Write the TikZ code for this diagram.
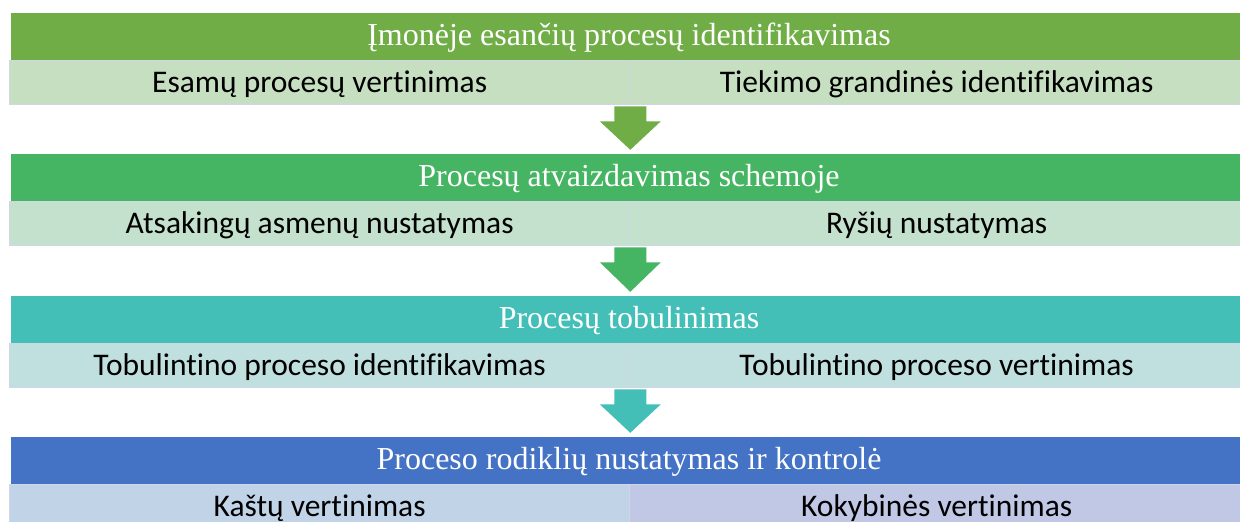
\documentclass[tikz,border=0pt]{standalone}
\usepackage{fontspec}
\setmainfont{Liberation Serif}
\newfontfamily\carlito[Ligatures={NoCommon}]{Carlito}
\usetikzlibrary{calc}

\definecolor{bandA}{HTML}{70AD47}
\definecolor{bandB}{HTML}{46B563}
\definecolor{bandC}{HTML}{43BFB8}
\definecolor{bandD}{HTML}{4472C4}
\definecolor{subA}{HTML}{C6DFC1}
\definecolor{subB}{HTML}{C3E1CC}
\definecolor{subC}{HTML}{C0E0DF}
\definecolor{subDl}{HTML}{C0D3E7}
\definecolor{subDr}{HTML}{C0C8E5}
\definecolor{edge}{HTML}{D0D5E8}

\tikzset{
  header/.style={minimum width=1236pt, minimum height=47pt, inner sep=0pt,
    text height=32pt, text depth=15pt,
    text=white, font=\fontsize{32}{34}\selectfont},
  subbox/.style={draw=edge, line width=1.3pt, minimum height=44pt, inner sep=0pt,
    text height=31.5pt, text depth=12.5pt,
    anchor=north west, font=\carlito\fontsize{31.5}{34}\selectfont},
  leftbox/.style={subbox, minimum width=620pt},
  rightbox/.style={subbox, minimum width=614pt},
}

% block arrow from the divider of a sub row down to the next header
\newcommand\stagearrow[3]{%
  \fill[#3] ($(#1)+(-16,1)$) -- ($(#1)+(16,1)$) -- ($(#1)+(16,16)$)
    -- ($(#1)+(30.5,16)$) -- ($(#1 |- #2.north)+(0,-4)$)
    -- ($(#1)+(-30.5,16)$) -- ($(#1)+(-16,16)$) -- cycle;}

\begin{document}
\begin{tikzpicture}[x=1pt,y=-1pt]
\clip (0,0) rectangle (1240,522);
\fill[white] (0,0) rectangle (1240,522);

% row 1
\node[leftbox, fill=subA] (s1l) at (9,60) {Esamų procesų vertinimas};
\node[rightbox, fill=subA] (s1r) at (629,60) {Tiekimo grandinės identifikavimas};
\node[header, fill=bandA] (h1) at (629,36.5) {Įmonėje esančių procesų identifikavimas};

% row 2
\node[leftbox, fill=subB] (s2l) at (9,201) {Atsakingų asmenų nustatymas};
\node[rightbox, fill=subB] (s2r) at (629,201) {Ryšių nustatymas};
\node[header, fill=bandB] (h2) at (629,177.5) {Procesų atvaizdavimas schemoje};

% row 3
\node[leftbox, fill=subC] (s3l) at (9,343) {Tobulintino proceso identifikavimas};
\node[rightbox, fill=subC] (s3r) at (629,343) {Tobulintino proceso vertinimas};
\node[header, fill=bandC] (h3) at (629,319.5) {Procesų tobulinimas};

% row 4
\node[leftbox, fill=subDl] (s4l) at (9,484) {Kaštų vertinimas};
\node[rightbox, fill=subDr] (s4r) at (629,484) {Kokybinės vertinimas};
\node[header, fill=bandD] (h4) at (629,460.5) {Proceso rodiklių nustatymas ir kontrolė};

% arrows between stages
\stagearrow{s1l.south east}{h2}{bandA}
\stagearrow{s2l.south east}{h3}{bandB}
\stagearrow{s3l.south east}{h4}{bandC}
\end{tikzpicture}
\end{document}
